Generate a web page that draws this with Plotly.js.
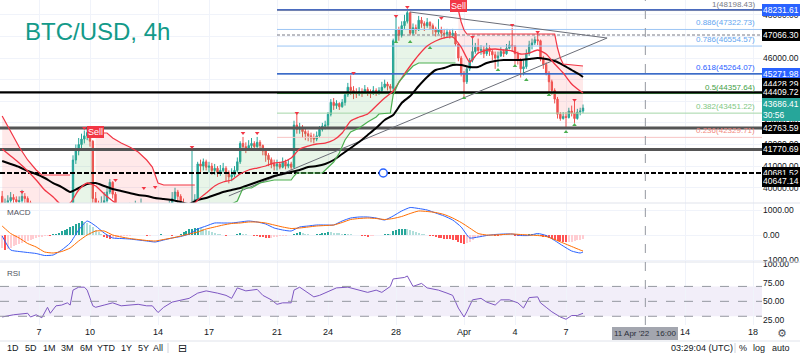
<!DOCTYPE html>
<html><head><meta charset="utf-8">
<script src="https://cdn.plot.ly/plotly-3.0.1.min.js"></script>
<style>html,body{margin:0;padding:0;background:#fff}#chart{width:800px;height:356px}</style>
</head><body><div id="chart"></div>
<script>
// ================= DATA =================
const candleStartUTC = [2022, 2, 4, 20];   // first 4h candle: 4 Mar 2022 20:00
const candleHours = 4;
const firstOpen = 39600;
const closes = [39200,
 39300,39400,39550,39450,39350,39400, 39600,39500,39300,39100,38800,38400,
 38900,39100,38500,38000,37600,38000, 38300,38600,38900,38700,38500,38700,
 41280,41700,42000,42250,42400,42550, 42150,39500,39200,39000,39300,39400,
 39800,40250,39700,39200,38900,38800, 38900,39000,39100,38950,39150,38950,
 39100,38900,38600,38200,37800,37750, 37900,38300,38700,38900,39200,39500,
 39800,39600,39300,39100,39000,38900, 39100,39450,41100,41000,41200,40950,
 41000,40800,40900,40700,40800,40900, 40700,40500,40600,40800,41200,42050,
 41900,41800,41950,42050,41900,42100, 41950,41700,41500,41300,41100,41000,
 41100,40950,41200,41000,41100,40950, 42900,42700,42800,42600,42500,42400,
 42300,42250,42400,42700,42850,42900, 43400,43950,43800,43900,43750,43950,
 44300,44650,44500,44400,44350,44450, 44400,44550,44450,44350,44500,44400,
 44500,44650,44800,44700,44600,46800, 47300,47050,47500,47700,48100,47150,
 47400,47300,47750,47600,47500,47650, 47500,47350,47200,47300,47150,47100,
 47200,47050,47150,46650,46000,45300, 44900,45500,45900,46300,46500,46350,
 46400,46200,46450,46300,46150,46000, 46100,46300,46200,46450,46600,46550,
 46200,45900,45500,45600,46200,46600, 46700,46850,46800,45950,45700,45300,
 44900,44500,44100,43400,43200,43300, 43250,43550,43450,43200,43500,43550,
 43686.41];
const highs = [39850,
 39500,39650,39800,39700,39600,39600, 39900,39750,39600,39400,39200,38900,
 39000,39250,39200,38600,38200,38300, 38500,38900,39200,39100,38900,38900,
 41500,42000,42300,42500,42650,42750, 42700,42200,39800,39400,39600,39800,
 40000,40400,40300,39800,39300,39100, 39100,39250,39300,39200,39400,39300,
 39500,39200,38900,38700,38300,38000, 38100,38500,38900,39100,39400,39800,
 40000,39900,39700,39500,39300,39200, 41900,39700,41200,41300,41350,41300,
 41200,41150,41100,41000,41050,41150, 41000,40800,40900,41000,41400,42150,
 42350,42100,42200,42300,42150,42350, 42200,42000,41800,41600,41400,41300,
 41300,41200,41400,41300,41300,41200, 43100,43450,43000,42900,42750,42650,
 42550,42500,42600,42850,43000,43100, 43500,44100,44150,44050,43950,44100,
 44400,44850,45200,44700,44600,44650, 44600,44750,44650,44550,44700,44600,
 44650,44900,45000,44900,44800,46900, 47900,47450,47700,48000,48231,48150,
 47600,47550,47950,47900,47700,47850, 47700,47600,47450,47800,47450,47350,
 47350,47300,47350,47250,46700,46100, 45400,45600,46000,46950,46700,46900,
 46600,46550,46700,46600,46400,46300, 46300,46500,46400,46650,46800,47400,
 46600,46300,46000,45900,46400,46800, 46900,47000,47200,46850,46100,45800,
 45400,45000,44600,44200,43500,43500, 43500,43700,43800,44050,43650,43700,
 43850];
const lows = [38900,
 38950,39150,39300,39250,39200,39250, 39300,39200,39050,38900,38600,38200,
 38300,38700,38300,37700,37200,37400, 37900,38200,38500,38400,38300,38400,
 38600,41100,41500,41800,42050,42200, 41900,39300,38900,38800,38900,39100,
 39300,39700,39500,38900,38600,38600, 38600,38750,38850,38750,38900,38800,
 38800,38600,38300,37900,37500,37550, 37600,37800,38200,38600,38800,39100,
 39400,39300,39000,38800,38800,38700, 38900,39000,39400,40700,40800,40800,
 40700,40600,40600,40500,40550,40700, 40300,40200,40300,40500,40700,41100,
 41700,41600,41700,41800,41700,41850, 41700,41500,41200,41000,40900,40800,
 40800,40850,40900,40850,40900,40800, 40900,42500,42500,42300,42200,42150,
 42100,42050,42150,42300,42600,42700, 42800,43300,43600,43650,43600,43700,
 43800,44200,44300,44100,44150,44250, 44200,44350,44250,44150,44300,44250,
 44300,44400,44600,44500,44450,44500, 46700,46800,46950,47350,47600,47050,
 47050,47100,47250,47400,47250,47400, 47300,47100,47000,47100,46950,46900,
 46950,46900,46950,46550,45850,45150, 44200,44800,45400,45800,46200,46200,
 46150,46000,46100,46100,45900,45500, 45600,46050,46050,46150,46400,46300,
 45700,45700,45100,45200,45500,46100, 46400,46600,46600,45850,45500,45200,
 44300,44300,43900,43200,43100,43150, 42800,43200,43300,43000,43150,43350,
 43450];

// moving averages (candle index -> price)
const maIdx = [0,3,6,9,12,15,18,21,24,27,30,33,36,39,42,45,48,51,54,57,60,63,66,69,72,75,78,81,84,87,90,93,96,99,102,105,108,111,114,117,120,123,126,129,132,135,138,141,144,147,150,153,156,159,162,165,168,171,174,177,180,183,186,189,192,195,198,201,204,205];
const emaFast = [41791,41468,41144,40774,40357,39894,39570,39200,39293,39894,40218,40080,39709,39385,39107,38922,38783,38691,38598,38598,38691,38783,38969,39432,39755,40080,40265,40357,40635,40820,40912,41005,41144,41190,41375,41791,41930,42023,42069,42208,42532,43087,43272,43411,43781,44151,44475,45077,45632,46141,46557,46789,46928,46974,46511,45817,46233,46372,46418,46372,46326,46187,46233,46372,46187,45724,45308,44799,44475,44383];
const maSlow = [41236,41097,40959,40774,40635,40450,40218,40033,39802,39987,40172,40218,40080,39941,39848,39755,39663,39616,39524,39478,39432,39339,39246,39432,39524,39663,39802,39894,39987,40126,40265,40403,40542,40635,40727,40820,40959,41005,41097,41282,41560,41838,42115,42439,42763,43133,43365,43920,44244,44707,45123,45447,45539,45678,45678,45586,45586,45771,45863,45910,45910,45910,45956,46002,45956,45863,45678,45447,45215,45123];

// SuperTrend segments (candle index -> price)
const stDownA_idx = [0,3,6,9,12,14,24];
const stDownA_val = [43318,42624,41884,41282,40820,40588,40588];
const stUpA_idx = [25,32];
const stUpA_val = [38200,38200];
const stDownB_idx = [33,37,39,42,45,48,51,53,55,57,68];
const stDownB_val = [42532,42532,42301,42069,41884,41653,41282,40958,40218,40126,40126];
const stUpB_idx = [69,72,75,78,81,83,84,85,88,91,96,102,103,104,113,114,115,117,119,121,123,126,129,132,133,137,138,140,143,145,147,160];
const stUpB_val = [38876,38969,39061,39154,39246,39385,39663,39987,39987,40218,40357,40357,40542,40681,40681,40820,40959,41190,41607,42208,42578,42763,43041,43272,43411,43457,44290,44892,45354,45632,45771,45771];
const stDownC_idx = [161,162,163,164,195,196,197,198,205];
const stDownC_val = [48223,47668,47298,47113,47113,46465,46002,45724,45632];
const sellIdx = [33,161];
const sellPrice = [42578,48408];

// fractal marks
const fracHiIdx = [7,29,40,50,54,67,85,90,104,124,139,143,155,166,180,189,202];
const fracHiPrice = [39802,42763,40357,39987,40033,41884,42532,42532,43457,45308,47945,48362,47853,46974,47529,47205,44059];
const fracLoIdx = [139,144,151,163,175,181,185,193,199,202];
const fracLoPrice = [46742,46742,46465,44151,45447,45632,44984,44290,42578,42902];

// Fibonacci retracement
const fibRatios = [1,0.886,0.786,0.618,0.5,0.382,0.236];
const fibPrices = [48198.43,47322.73,46554.57,45264.07,44357.64,43451.22,42329.71];
const fibStart = '2022-03-21 00:00';

// horizontal levels
const levelPrices = [48231.61,47066.30,45271.98,44428.29,44409.72,42763.59,41770.69,40681.52];
const levelStarts = ['2022-03-21 00:00','2022-03-21 00:00','2022-03-21 00:00','2022-03-04 16:56','2022-03-04 16:56','2022-03-04 16:56','2022-03-04 16:56','2022-03-04 16:56'];
const axisLabelPrices = [48231.61,47066.30,45271.98,44428.29,44409.72,42763.59,41770.69,40681.52,40647.14];
const lastPrice = 43686.41, countdown = '30:56';
const handleTime = '2022-03-27 06:00', handlePrice = 40681.52;

// triangle trend lines
const trendDownT = ['2022-03-28 20:00','2022-04-09 10:00'];
const trendDownP = [48130,46927];
const trendUpT = ['2022-03-18 04:00','2022-04-09 10:00'];
const trendUpP = [39620,46927];

// MACD (12,26,9)
const macdLine = [-40,-600,-660,-700,-740,-820,-800,-600,-320,200,560,360,80,-120,-140,-160,-200,-240,-280,-200,-120,-60,40,240,360,480,480,480,520,560,520,440,280,200,160,320,360,400,400,400,560,680,720,720,680,600,760,960,1100,1060,1000,880,760,600,320,-120,-80,-20,20,40,40,-20,-20,60,-20,-220,-440,-640,-720,-680];
const signalLine = [360,60,-120,-340,-480,-680,-720,-660,-520,-240,0,160,160,0,-80,-140,-180,-220,-240,-180,-120,-40,40,120,240,320,400,460,480,520,520,480,400,320,260,280,320,360,380,400,500,620,660,680,660,620,660,740,860,960,940,900,820,680,500,280,60,0,0,20,40,20,0,-20,-60,-180,-320,-460,-600,-640];
const macdHist = [-520,-600,-560,-500,-450,-400,-350,-300,-260,-220,-180,-150,-120,-90,-60,-40,-20,
 -30,30,60,100,150,200,260,320,380,440,500,560,540,480,400,320,220,120,30,
 -60,-100,-140,-120,-100,-80,-60,-50,-30,-20,-10,
 10,20,15,-10,-30,-20,-10,10,20,30,20,10,-10,-25,-15,
 15,60,120,180,230,260,280,300,270,230,190,150,110,80,50,30,10,
 -20,-10,10,20,30,80,60,40,20,10,-20,-40,-60,-90,-110,-120,-100,-80,-60,-40,-30,-20,-10,
 10,60,100,110,80,50,30,10,20,40,60,80,100,130,120,100,90,70,50,60,50,40,20,10,-10,-30,-50,-60,-40,-20,-10,10,20,40,50,40,
 150,200,230,250,260,240,200,160,120,90,60,40,20,-20,-50,-80,-100,-120,-140,-150,-170,-180,-200,-260,-330,-340,-320,-260,-190,-120,-70,-40,-20,-10,
 10,-10,-20,-30,-20,-10,10,20,10,-20,-40,-30,-10,20,50,60,50,30,-20,-60,-90,-130,-160,-190,-220,-250,-270,-290,-290,-270,-240,-210,-190,-170];

// RSI (14)
const rsiIdx = [0,4,9,10,12,14,16,17,19,21,23,24,25,27,29,30,32,33,36,39,42,44,48,51,53,55,57,60,64,66,69,72,76,79,81,83,86,90,92,95,97,99,102,103,105,108,110,112,116,118,122,125,129,132,134,137,138,142,143,145,148,150,154,157,159,161,163,164,166,169,171,174,176,179,182,184,186,189,190,192,194,197,199,201,203,205];
const rsiVal = [29,32,34,29,32,28,42,34,44,45,48,45,65,69,69,65,44,42,45,48,44,45,46,44,44,35,42,49,52,54,61,64,61,58,54,68,64,66,58,52,46,48,48,65,69,61,56,58,64,68,69,66,62,65,62,70,80,82,84,70,74,68,65,61,58,41,29,36,52,54,49,45,52,52,48,41,55,56,48,42,36,29,26,31,31,34];
const rsiLevels = [70,50,30];

// axes
const xStart = '2022-03-04 16:56', xEnd = '2022-04-18 12:42';
const dateTickVals = ['2022-03-07','2022-03-10','2022-03-14','2022-03-17','2022-03-21','2022-03-24','2022-03-28','2022-04-01','2022-04-04','2022-04-07','2022-04-14','2022-04-18'];
const dateTickText = ['7','10','14','17','21','24','28','Apr','4','7','14','18'];
const priceTicks = [40000,41000,42000,43000,44000,45000,46000,47000,48000];
const macdTicks = [-1000,0,1000];
const rsiTicks = [25,50,75,100];
const crosshairTime = '2022-04-11 16:00';
const crosshairText = "11 Apr '22   16:00";
const rangeButtons = ['1D','5D','1M','3M','6M','YTD','1Y','5Y','All'];
const clockText = '03:29:04 (UTC)';

// ================= BUILD =================
const T0 = Date.UTC(candleStartUTC[0], candleStartUTC[1], candleStartUTC[2], candleStartUTC[3]);
const tAt = i => new Date(T0 + i * candleHours * 3600000).toISOString().slice(0,16).replace('T',' ');
const times = closes.map((_, i) => tAt(i));
const opens = closes.map((c, i) => i === 0 ? firstOpen : closes[i-1]);
const mids = closes.map((c, i) => (opens[i] + c) / 2);

const GREEN = '#26a69a', RED = '#ef5350';
const traces = [];

function stFill(idx, vals, color) {
  const xs = idx.map(tAt), ys = vals.slice();
  for (let i = idx[idx.length-1]; i >= idx[0]; i--) { xs.push(tAt(i)); ys.push(mids[i]); }
  traces.push({type:'scatter', mode:'lines', x:xs, y:ys, fill:'toself', fillcolor:color, line:{width:0}, hoverinfo:'skip'});
}
const PINK = 'rgba(255,82,82,0.13)', LGREEN = 'rgba(76,175,80,0.13)';
stFill(stDownA_idx, stDownA_val, PINK);
stFill(stUpA_idx, stUpA_val, LGREEN);
stFill(stDownB_idx, stDownB_val, PINK);
stFill(stUpB_idx, stUpB_val, LGREEN);
stFill(stDownC_idx, stDownC_val, PINK);

// fib lines
const fibLineColors = ['#9598a1','#9cc5f4','#9cc5f4','#4f7fd6','#4caf50','#a5d6a7','#f7c4c4'];
const fibTextColors = ['#787b86','#64a6f0','#64a6f0','#2962ff','#43a047','#81c784','#f28b82'];
fibPrices.forEach((p, k) => traces.push({type:'scatter', mode:'lines', x:[fibStart, xEnd], y:[p, p], line:{color:fibLineColors[k], width:1}, hoverinfo:'skip'}));

// level lines
const levelColors = ['#4a6bbf','#787b86','#3c6cc8','#000000','#000000','#555555','#555555','#000000'];
const levelWidths = [1.5,1,1.5,1,2,3,3,2];
const levelDash = ['solid','3px,2px','solid','solid','solid','solid','solid','5px,2px'];
levelPrices.forEach((p, k) => traces.push({type:'scatter', mode:'lines', x:[levelStarts[k], xEnd], y:[p, p], line:{color:levelColors[k], width:levelWidths[k], dash:levelDash[k]}, hoverinfo:'skip'}));

// trend lines
traces.push({type:'scatter', mode:'lines', x:trendDownT, y:trendDownP, line:{color:'#6b6e78', width:1}, hoverinfo:'skip'});
traces.push({type:'scatter', mode:'lines', x:trendUpT, y:trendUpP, line:{color:'#6b6e78', width:1}, hoverinfo:'skip'});

// candles
traces.push({type:'candlestick', x:times, open:opens, high:highs, low:lows, close:closes,
  increasing:{line:{color:GREEN, width:1}, fillcolor:GREEN},
  decreasing:{line:{color:RED, width:1}, fillcolor:RED},
  whiskerwidth:0, hoverinfo:'skip'});

// moving averages
traces.push({type:'scatter', mode:'lines', x:maIdx.map(tAt), y:maSlow, line:{color:'#000000', width:2, shape:'spline', smoothing:0.6}, hoverinfo:'skip'});
traces.push({type:'scatter', mode:'lines', x:maIdx.map(tAt), y:emaFast, line:{color:'#f23645', width:1.3, shape:'spline', smoothing:0.6}, hoverinfo:'skip'});

// supertrend lines
[[stDownA_idx, stDownA_val, '#f23645'], [stUpA_idx, stUpA_val, '#4caf50'], [stDownB_idx, stDownB_val, '#f23645'],
 [stUpB_idx, stUpB_val, '#4caf50'], [stDownC_idx, stDownC_val, '#f23645']].forEach(s =>
  traces.push({type:'scatter', mode:'lines', x:s[0].map(tAt), y:s[1], line:{color:s[2], width:1.2}, hoverinfo:'skip'}));

// fractals
traces.push({type:'scatter', mode:'markers', x:fracHiIdx.map(tAt), y:fracHiPrice, marker:{symbol:'triangle-down', size:4, color:'#f23645'}, hoverinfo:'skip'});
traces.push({type:'scatter', mode:'markers', x:fracLoIdx.map(tAt), y:fracLoPrice, marker:{symbol:'triangle-up', size:4, color:'#4caf50'}, hoverinfo:'skip'});

// handle
traces.push({type:'scatter', mode:'markers', x:[handleTime], y:[handlePrice], marker:{symbol:'circle', size:8, color:'#ffffff', line:{color:'#2962ff', width:1.5}}, hoverinfo:'skip'});

// MACD
const histColors = macdHist.map((h, i) => {
  const prev = i === 0 ? h : macdHist[i-1];
  if (h >= 0) return h >= prev ? '#26a69a' : '#b2dfdb';
  return h < prev ? '#ff5252' : '#ffcdd2';
});
traces.push({type:'bar', x:times, y:macdHist, marker:{color:histColors, line:{width:0}}, width:candleHours*3600000*0.7, xaxis:'x', yaxis:'y2', hoverinfo:'skip'});
traces.push({type:'scatter', mode:'lines', x:maIdx.map(tAt), y:macdLine, line:{color:'#2962ff', width:1, shape:'spline', smoothing:0.5}, xaxis:'x', yaxis:'y2', hoverinfo:'skip'});
traces.push({type:'scatter', mode:'lines', x:maIdx.map(tAt), y:signalLine, line:{color:'#ff6d00', width:1, shape:'spline', smoothing:0.5}, xaxis:'x', yaxis:'y2', hoverinfo:'skip'});

// RSI
traces.push({type:'scatter', mode:'lines', x:rsiIdx.map(tAt), y:rsiVal, line:{color:'#7e57c2', width:1}, xaxis:'x', yaxis:'y3', hoverinfo:'skip'});

// ---- layout ----
const W = 800, H = 356;
const plotRight = 762 / W;
const py = px => (H - px) / H;     // pixel row -> paper y
const FONT = 'Liberation Sans, Arial, sans-serif';

const shapes = [];
shapes.push({type:'rect', xref:'paper', yref:'y3', x0:0, x1:plotRight, y0:rsiLevels[2], y1:rsiLevels[0], fillcolor:'rgba(126,87,194,0.1)', line:{width:0}, layer:'below'});
rsiLevels.forEach(v => shapes.push({type:'line', xref:'paper', yref:'y3', x0:0, x1:plotRight, y0:v, y1:v, line:{color:'#9598a1', width:1, dash:'dash'}}));
shapes.push({type:'line', xref:'paper', yref:'paper', x0:0, x1:1, y0:py(203), y1:py(203), line:{color:'#e0e3eb', width:1}});
shapes.push({type:'line', xref:'paper', yref:'paper', x0:0, x1:1, y0:py(262), y1:py(262), line:{color:'#e0e3eb', width:1}});
shapes.push({type:'line', xref:'paper', yref:'paper', x0:0, x1:1, y0:py(341), y1:py(341), line:{color:'#e0e3eb', width:1}});
shapes.push({type:'line', xref:'x', yref:'paper', x0:crosshairTime, x1:crosshairTime, y0:py(325), y1:1, line:{color:'#9598a1', width:1, dash:'dash'}});
shapes.push({type:'line', xref:'paper', yref:'paper', x0:168/W, x1:168/W, y0:py(353), y1:py(343), line:{color:'#d1d4dc', width:1}});
shapes.push({type:'line', xref:'paper', yref:'paper', x0:735/W, x1:735/W, y0:py(353), y1:py(343), line:{color:'#d1d4dc', width:1}});

const ann = [];
ann.push({xref:'paper', yref:'paper', x:23/W, y:py(31), xanchor:'left', yanchor:'middle', text:'BTC/USD, 4h', showarrow:false, font:{family:FONT, size:24, color:'#139a89'}});
ann.push({xref:'paper', yref:'paper', x:5/W, y:py(212), xanchor:'left', yanchor:'middle', text:'MACD', showarrow:false, font:{family:FONT, size:8, color:'#50535e'}});
ann.push({xref:'paper', yref:'paper', x:5/W, y:py(273), xanchor:'left', yanchor:'middle', text:'RSI', showarrow:false, font:{family:FONT, size:8, color:'#50535e'}});

// sell labels
sellIdx.forEach((k, j) => ann.push({xref:'x', yref:'y', x:tAt(k), y:sellPrice[j], text:'Sell', showarrow:false, bgcolor:'#f23645', font:{family:FONT, size:9, color:'#ffffff'}, borderpad:1, borderwidth:0, xanchor:'center', yanchor:'middle'}));

// fib labels
fibPrices.forEach((p, k) => ann.push({xref:'paper', yref:'y', x:757/W, y:p, xanchor:'right', yanchor:'bottom', text:fibRatios[k] + '(' + p.toFixed(2) + ')', showarrow:false, font:{family:FONT, size:8, color:fibTextColors[k]}}));

// axis price labels
const labelBg = ['#2962ff','#000000','#2962ff','#000000','#000000','#000000','#000000','#000000','#000000'];
const labelShift = [0,0,0,8.5,0,0,0,0,-7];
axisLabelPrices.forEach((p, k) => ann.push({xref:'paper', yref:'y', x:plotRight, y:p, xanchor:'left', yanchor:'middle', yshift:labelShift[k], text:p.toFixed(2), showarrow:false, bgcolor:labelBg[k], width:36, height:10, align:'left', borderpad:1, borderwidth:0, font:{family:FONT, size:8.5, color:'#ffffff'}}));
ann.push({xref:'paper', yref:'y', x:plotRight, y:lastPrice, xanchor:'left', yanchor:'middle', yshift:-1, text:lastPrice.toFixed(2) + '<br>' + countdown, showarrow:false, bgcolor:'#26a69a', width:36, align:'left', borderpad:1, borderwidth:0, font:{family:FONT, size:8.5, color:'#ffffff'}});

// crosshair time label
ann.push({xref:'x', yref:'paper', x:crosshairTime, y:py(333), xanchor:'center', yanchor:'middle', text:crosshairText, showarrow:false, bgcolor:'#a3a6af', borderpad:2, borderwidth:0, font:{family:FONT, size:8, color:'#2a2e39'}});

// bottom toolbar
const btnX = [13,31,49,67,86,106,126,143,158];
rangeButtons.forEach((b, k) => ann.push({xref:'paper', yref:'paper', x:btnX[k]/W, y:py(348), xanchor:'center', yanchor:'middle', text:b, showarrow:false, font:{family:FONT, size:9, color:'#131722'}}));
ann.push({xref:'paper', yref:'paper', x:182/W, y:py(348), xanchor:'center', yanchor:'middle', text:'⊟', showarrow:false, font:{family:'DejaVu Sans', size:11, color:'#131722'}});
ann.push({xref:'paper', yref:'paper', x:702/W, y:py(348), xanchor:'center', yanchor:'middle', text:clockText, showarrow:false, font:{family:FONT, size:9, color:'#131722'}});
[['%',743],['log',759],['auto',781]].forEach(a => ann.push({xref:'paper', yref:'paper', x:a[1]/W, y:py(348), xanchor:'center', yanchor:'middle', text:a[0], showarrow:false, font:{family:FONT, size:9, color:'#131722'}}));
ann.push({xref:'paper', yref:'paper', x:782/W, y:py(333), xanchor:'center', yanchor:'middle', text:'⚙', showarrow:false, font:{family:'DejaVu Sans', size:11, color:'#50535e'}});

const yCommon = {side:'right', zeroline:false, showline:false, ticks:'', tickformat:'.2f', fixedrange:true, tickfont:{family:FONT, size:8.5, color:'#131722'}};
const layout = {
  width:W, height:H, margin:{l:0, r:0, t:0, b:0}, paper_bgcolor:'#ffffff', plot_bgcolor:'#ffffff', showlegend:false,
  font:{family:FONT, size:9, color:'#131722'}, dragmode:false, bargap:0,
  xaxis:{type:'date', domain:[0, plotRight], range:[xStart, xEnd], anchor:'y3', tickmode:'array', tickvals:dateTickVals, ticktext:dateTickText,
         showgrid:true, gridcolor:'#f0f3fa', zeroline:false, showline:false, ticks:'', rangeslider:{visible:false}, fixedrange:true,
         tickfont:{family:FONT, size:9, color:'#131722'}},
  yaxis:Object.assign({}, yCommon, {domain:[py(203), 1], range:[39293, 48686], tickmode:'array', tickvals:priceTicks, showgrid:true, gridcolor:'#f0f3fa'}),
  yaxis2:Object.assign({}, yCommon, {domain:[py(262), py(203)], range:[-1080, 1280], tickmode:'array', tickvals:macdTicks, showgrid:true, gridcolor:'#f0f3fa'}),
  yaxis3:Object.assign({}, yCommon, {domain:[py(325), py(262)], range:[18.3, 102.7], tickmode:'array', tickvals:rsiTicks, showgrid:false}),
  shapes:shapes, annotations:ann
};
Plotly.newPlot('chart', traces, layout, {staticPlot:true, displayModeBar:false});
</script></body></html>
